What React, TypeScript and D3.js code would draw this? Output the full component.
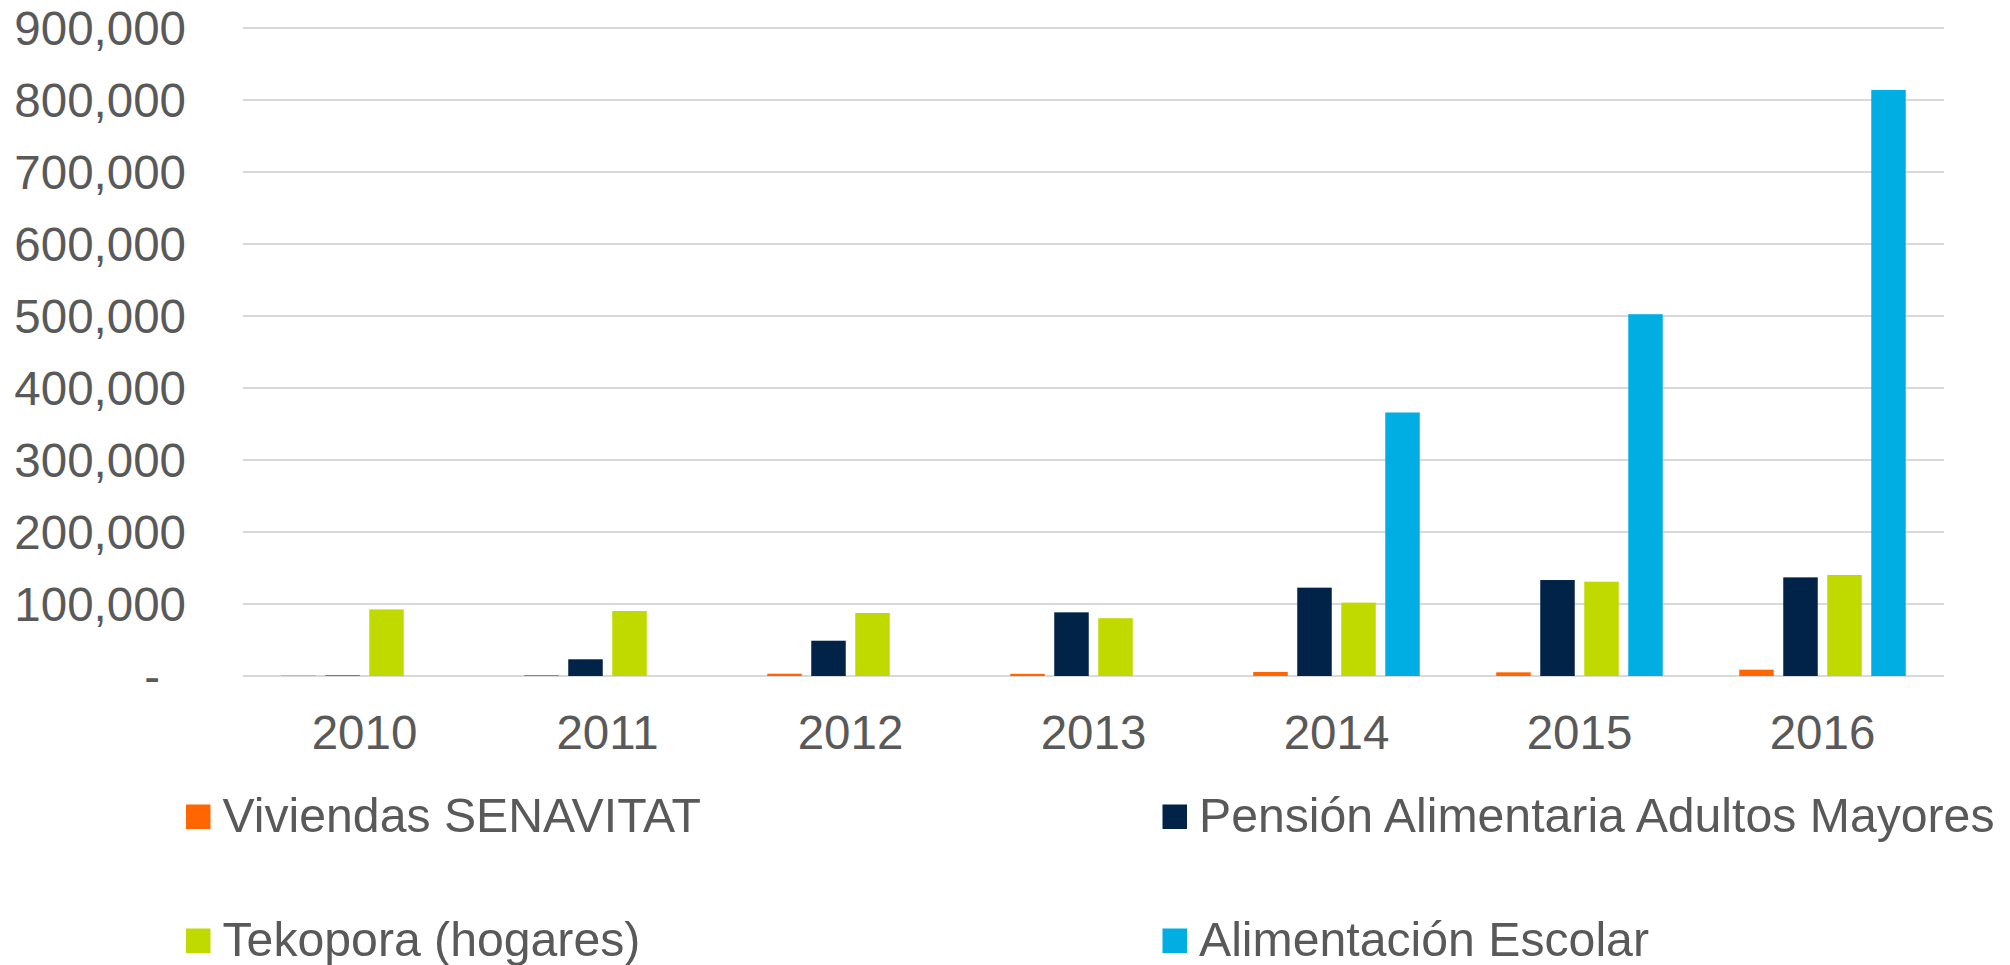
import React from "react";
import * as d3 from "d3";

const years = ["2010", "2011", "2012", "2013", "2014", "2015", "2016"];
const seriesNames = [
  "Viviendas SENAVITAT",
  "Pensión Alimentaria Adultos Mayores",
  "Tekopora (hogares)",
  "Alimentación Escolar",
];
const viviendas = [500, 1400, 3200, 3000, 5600, 5100, 8800];
const pension = [700, 23200, 49000, 88400, 122700, 133300, 137000];
const tekopora = [92500, 90300, 87500, 80300, 101900, 131000, 140300];
const alimentacion = [0, 0, 0, 0, 366000, 502500, 814000];
const yTicks = [0, 100000, 200000, 300000, 400000, 500000, 600000, 700000, 800000, 900000];
const colors = ["#FF6600", "#002347", "#C0DA00", "#00AEE4"];

const W = 2010;
const H = 965;
const textColor = "#595959";
const font = "'Liberation Sans', Arial, sans-serif";

export default function App() {
  const seriesData = [viviendas, pension, tekopora, alimentacion];
  const x0 = d3.scaleBand<string>().domain(years).range([243, 1944]).padding(0);
  const groupW = 166.5;
  const x1 = d3
    .scaleBand<number>()
    .domain([0, 1, 2, 3])
    .range([0, groupW])
    .paddingInner(0.216)
    .paddingOuter(0);
  const y = d3.scaleLinear().domain([0, 900000]).range([676, 28]);
  const fmt = d3.format(",");
  const off = (x0.bandwidth() - groupW) / 2;

  const legendPos = [
    { x: 186, y: 804.5 },
    { x: 1162.5, y: 804.5 },
    { x: 186, y: 928.5 },
    { x: 1162.5, y: 928.5 },
  ];

  return (
    <svg
      width={W}
      height={H}
      style={{ position: "absolute", left: 0, top: 0, background: "#fff" }}
      fontFamily={font}
    >
      <rect x={0} y={0} width={W} height={H} fill="#fff" />
      {yTicks.map((t) => (
        <g key={t}>
          <line x1={243} x2={1944} y1={y(t)} y2={y(t)} stroke="#D9D9D9" strokeWidth={2} />
          <text
            x={t === 0 ? 160 : 186}
            y={y(t) + 16.9}
            textAnchor="end"
            fontSize={47.5}
            fill={textColor}
          >
            {t === 0 ? "-" : fmt(t)}
          </text>
        </g>
      ))}
      {years.map((yr, i) => (
        <g key={yr} transform={`translate(${(x0(yr) ?? 0) + off},0)`}>
          {seriesData.map((s, k) =>
            s[i] > 0 ? (
              <rect
                key={k}
                x={x1(k)}
                y={y(s[i])}
                width={x1.bandwidth()}
                height={y(0) - y(s[i])}
                fill={colors[k]}
              />
            ) : null
          )}
        </g>
      ))}
      {years.map((yr) => (
        <text
          key={yr}
          x={(x0(yr) ?? 0) + x0.bandwidth() / 2}
          y={749}
          textAnchor="middle"
          fontSize={47.5}
          fill={textColor}
        >
          {yr}
        </text>
      ))}
      {seriesNames.map((n, k) => (
        <g key={n}>
          <rect x={legendPos[k].x} y={legendPos[k].y} width={24.5} height={24.5} fill={colors[k]} />
          <text
            x={legendPos[k].x + 36.5}
            y={legendPos[k].y + 27.5}
            fontSize={48.2}
            fill={textColor}
          >
            {n}
          </text>
        </g>
      ))}
    </svg>
  );
}
